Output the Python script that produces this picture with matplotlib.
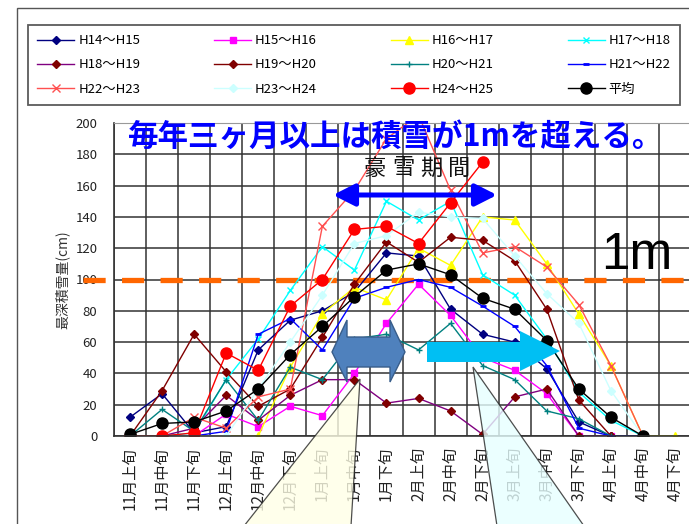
import matplotlib
matplotlib.use('Agg')
import matplotlib.pyplot as plt
import numpy as np
from matplotlib.patches import Polygon, Rectangle, FancyArrowPatch

plt.rcParams['font.family'] = ['Noto Sans CJK JP', 'DejaVu Sans']

nan = np.nan

# --- data (最深積雪量 cm, 旬ごと) ---
months = ['11月上旬', '11月中旬', '11月下旬', '12月上旬', '12月中旬', '12月下旬',
          '1月上旬', '1月中旬', '1月下旬', '2月上旬', '2月中旬', '2月下旬',
          '3月上旬', '3月中旬', '3月下旬', '4月上旬', '4月中旬', '4月下旬']

h14 = [12, 27, 2, 6, 55, 74, 80, 92, 117, 115, 81, 65, 60, 43, 9, 0, 0, nan]
h15 = [0, 0, 0, 14, 6, 19, 13, 40, 72, 97, 77, 50, 42, 27, 0, 0, 0, nan]
h16 = [0, 0, 0, 0, 0, 44, 78, 95, 87, 120, 109, 140, 138, 110, 78, 45, 0, 0]
h17 = [0, 0, 2, 36, 62, 93, 121, 106, 150, 138, 150, 103, 90, 62, 28, 10, 0, nan]
h18 = [0, 0, 5, 26, 10, 26, 36, 36, 21, 24, 16, 1, 25, 30, 0, 0, 0, nan]
h19 = [0, 29, 65, 41, 19, 30, 63, 97, 124, 111, 127, 125, 112, 81, 23, 0, 0, nan]
h20 = [0, 17, 3, 36, 10, 44, 36, 62, 65, 55, 72, 45, 36, 16, 11, 0, 0, nan]
h21 = [0, 0, 0, 3, 65, 75, 55, 88, 95, 100, 95, 83, 70, 45, 5, 0, 0, nan]
h22 = [0, 0, 12, 5, 25, 30, 134, 157, 190, 205, 157, 117, 121, 108, 84, 45, 0, nan]
h23 = [0, 0, 0, 0, 30, 60, 90, 123, 128, 143, 140, 139, 115, 91, 72, 29, 0, nan]
h24 = [0, 0, 2, 53, 42, 83, 100, 132, 134, 123, 149, 175, nan, nan, nan, nan, nan, nan]
avg = [1, 8, 9, 16, 30, 52, 70, 89, 106, 110, 103, 88, 81, 61, 30, 12, 0, nan]

labels = ['H14～H15', 'H15～H16', 'H16～H17', 'H17～H18', 'H18～H19', 'H19～H20',
          'H20～H21', 'H21～H22', 'H22～H23', 'H23～H24', 'H24～H25', '平均']
values = [h14, h15, h16, h17, h18, h19, h20, h21, h22, h23, h24, avg]

styles = [
    dict(color='#000080', marker='D', ms=4),
    dict(color='#FF00FF', marker='s', ms=5),
    dict(color='#FFFF00', marker='^', ms=6),
    dict(color='#00FFFF', marker='x', ms=5, mew=1),
    dict(color='#800080', marker='D', ms=4, mfc='#800000', mec='#800000'),
    dict(color='#800000', marker='D', ms=4),
    dict(color='#008080', marker='+', ms=5, mew=1),
    dict(color='#0000FF', marker='_', ms=5, mew=2),
    dict(color='#FF5050', marker='x', ms=6, mew=1),
    dict(color='#CCFFFF', marker='D', ms=4),
    dict(color='#FF0000', marker='o', ms=8),
    dict(color='#000000', marker='o', ms=8),
]

W, H = 689, 524


def fx(x):
    return x / W


def fy(y):
    return 1 - y / H


fig = plt.figure(figsize=(W / 100, H / 100), dpi=100)
fig.patch.set_facecolor('white')

# outer frame
fig.add_artist(Rectangle((fx(17), -0.1), 1.2, fy(8) + 0.1, transform=fig.transFigure,
                         fill=False, edgecolor='#555555', lw=1))

ax = fig.add_axes([fx(114), fy(436), (691 - 114) / W, (436 - 123) / H])
x = np.arange(len(months))

lines = []
for lab, vals, st in zip(labels, values, styles):
    ln, = ax.plot(x, vals, lw=1.0, label=lab, **st)
    lines.append(ln)

ax.set_xlim(-0.5, len(months) - 0.5)
ax.set_ylim(0, 200)
ax.set_xticks(x)
ax.set_xticklabels(months, rotation=90, fontsize=11, color='#222222')
ax.set_xticks(np.arange(-0.5, len(months), 1), minor=True)
ax.set_yticks(range(0, 201, 20))
ax.tick_params(axis='y', labelsize=9.5, colors='#222222', length=0, pad=12)
ax.tick_params(axis='x', which='both', length=0, pad=8)
ax.grid(True, which='minor', axis='x', color='#333333', lw=1.1)
ax.grid(True, which='major', axis='y', color='#333333', lw=1.1)
ax.grid(False, which='major', axis='x')
ax.spines['top'].set_color('#999999')
ax.spines['right'].set_visible(False)
for s in ['left', 'bottom']:
    ax.spines[s].set_color('#333333')
    ax.spines[s].set_linewidth(1.2)

# 1m line
ax.axhline(100, xmin=(83 - 114) / 577, xmax=1, color='#FF6600', lw=3.8,
           dashes=(4.2, 3.1), clip_on=False, zorder=1.6)

fig.text(fx(62), fy(280), '最深積雪量(cm)', rotation=90, ha='center', va='center',
         fontsize=10, color='#333333')

# legend (row order as in the original)
order = [0, 4, 8, 1, 5, 9, 2, 6, 10, 3, 7, 11]
leg = fig.legend([lines[i] for i in order], [labels[i] for i in order], ncol=4,
                 loc='center', bbox_to_anchor=(fx(28), fy(105), (680 - 28) / W, (105 - 25) / H),
                 mode='expand', fontsize=9.5, frameon=True, fancybox=False,
                 edgecolor='#333333', borderaxespad=0, handlelength=2.8,
                 handletextpad=0.3, labelspacing=0.85, borderpad=0.7)
leg.get_frame().set_linewidth(1.3)

# titles / annotations
fig.text(fx(128), fy(137), '毎年三ヶ月以上は積雪が1mを超える。', ha='left', va='center',
         fontsize=22, fontweight='bold', color='#0000FF')
for i, ch in enumerate('豪雪期間'):
    fig.text(fx(375 + 28 * i), fy(168), ch, ha='center', va='center', fontsize=16,
             color='#111111')
fig.text(fx(637), fy(256), '1m', ha='center', va='center', fontsize=37,
         family='Liberation Sans', color='black')

fig.add_artist(FancyArrowPatch((fx(333), fy(195)), (fx(497), fy(195)),
                               transform=fig.transFigure,
                               arrowstyle='<|-|>,head_length=0.65,head_width=0.33',
                               mutation_scale=20, lw=3.6, color='#0000FF',
                               shrinkA=0, shrinkB=0))


def poly(pts, **kw):
    fig.add_artist(Polygon([(fx(a), fy(b)) for a, b in pts], closed=True,
                           transform=fig.transFigure, **kw))


# block double arrow
poly([(332, 352), (347, 320), (347, 337), (390, 337), (390, 320), (405, 352),
      (390, 382), (390, 367), (347, 367), (347, 382)],
     facecolor='#4F81BD', edgecolor='#385D8A', lw=1)
# cyan arrow
poly([(427, 342), (520, 342), (520, 331), (560, 351), (520, 371), (520, 362), (427, 362)],
     facecolor='#00BFF3', edgecolor='none')
# callout triangles
poly([(360, 379), (244, 526), (351, 526)], facecolor='#FFFFE6', edgecolor='#222222',
     lw=0.9, alpha=0.8)
poly([(473, 367), (497, 526), (584, 526)], facecolor='#E6FFFF', edgecolor='#222222',
     lw=0.9, alpha=0.8)

fig.savefig('out.png', dpi=100)
